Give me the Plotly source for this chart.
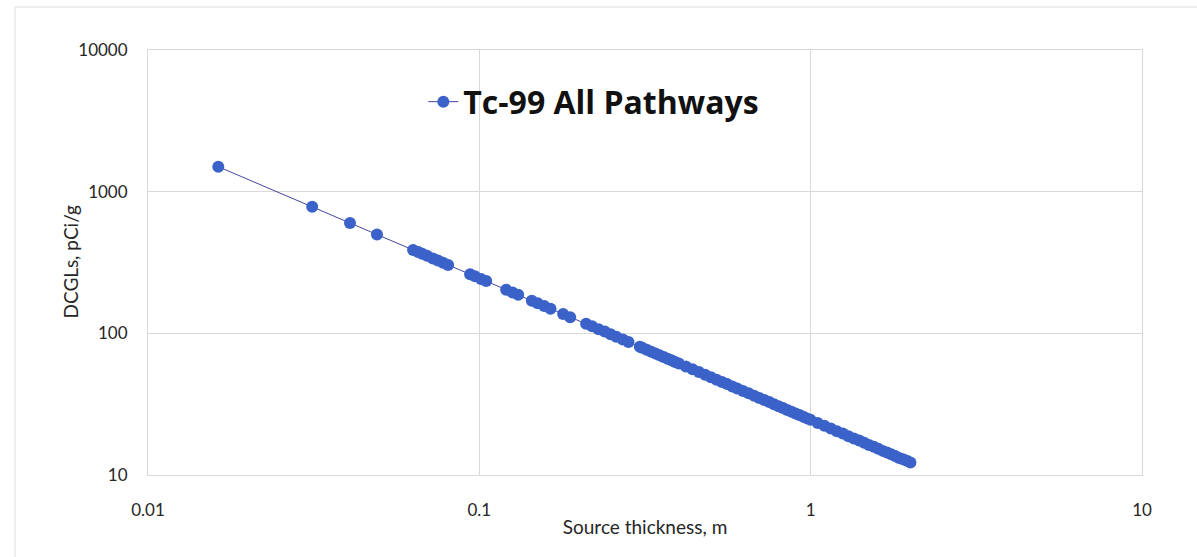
import plotly.graph_objects as go

# Source thickness (m) and DCGL values (pCi/g)
thickness_m = [
    0.0163, 0.0313, 0.0407, 0.0491,
    0.0631, 0.0654, 0.0672, 0.0695,
    0.0724, 0.0750, 0.0777, 0.0805,
    0.0938, 0.0970, 0.1012, 0.1049,
    0.1205, 0.126, 0.131,
    0.144, 0.150, 0.157, 0.164,
    0.179, 0.188,
    0.210, 0.219, 0.229, 0.239, 0.249, 0.259, 0.271, 0.282,
    0.305, 0.31, 0.32, 0.33, 0.34, 0.35, 0.36, 0.37, 0.38, 0.39,
    0.40, 0.42, 0.44, 0.46, 0.48,
    0.50, 0.52, 0.54, 0.56, 0.58, 0.60, 0.625, 0.65, 0.675, 0.70,
    0.725, 0.75, 0.775, 0.80, 0.825, 0.85, 0.875, 0.90, 0.925, 0.95,
    0.975, 1.00, 1.05, 1.10, 1.15, 1.20, 1.25, 1.30, 1.35, 1.40,
    1.45, 1.50, 1.55, 1.60, 1.65, 1.70, 1.75, 1.80, 1.85, 1.90,
    1.95, 2.00,
]
dcgl_pci_g = [
    1500, 783, 602, 499,
    388, 375, 365, 353,
    338, 327, 315, 304,
    261, 253, 242, 234,
    203, 194, 187,
    170, 163, 156, 149,
    137, 130,
    117, 112, 107, 103, 98.4, 94.6, 90.4, 86.9,
    80.3, 79.0, 76.6, 74.2, 72.1, 70.0, 68.1, 66.2, 64.5, 62.8,
    61.3, 58.3, 55.7, 53.3, 51.0,
    49.0, 47.1, 45.4, 43.8, 42.2, 40.8, 39.2, 37.7, 36.3, 35.0,
    33.8, 32.7, 31.6, 30.6, 29.7, 28.8, 28.0, 27.2, 26.5, 25.8,
    25.1, 24.5, 23.3, 22.3, 21.3, 20.4, 19.6, 18.8, 18.1, 17.5,
    16.9, 16.3, 15.8, 15.3, 14.8, 14.4, 14.0, 13.6, 13.2, 12.9,
    12.6, 12.25,
]
series_name = "Tc-99 All Pathways"
x_title = "Source thickness, m"
y_title = "DCGLs, pCi/g"
x_tick_vals = [0.01, 0.1, 1, 10]
x_tick_text = ["0.01", "0.1", "1", "10"]
y_tick_vals = [10, 100, 1000, 10000]
y_tick_text = ["10", "100", "1000", "10000"]

FONT = "Lato, 'Open Sans', sans-serif"
GRID = "#d9d9d9"
TXT = "#262626"

fig = go.Figure()
fig.add_trace(go.Scatter(
    x=thickness_m, y=dcgl_pci_g, mode="lines+markers", name=series_name,
    line=dict(color="#45459c", width=1),
    marker=dict(color="#3a62c8", size=12, line=dict(width=0)),
))

fig.update_layout(
    width=1197, height=557,
    margin=dict(l=148, r=55, t=50, b=82),
    paper_bgcolor="white", plot_bgcolor="white",
    font=dict(family=FONT, color=TXT),
    showlegend=True,
    legend=dict(
        x=0.277, y=0.878, xanchor="left", yanchor="middle",
        bgcolor="rgba(0,0,0,0)",
        font=dict(family="'Open Sans', sans-serif", size=32, color="#111111", weight="bold"),
        itemwidth=30,
    ),
    xaxis=dict(
        type="log", range=[-2, 1],
        tickvals=x_tick_vals, ticktext=x_tick_text,
        showgrid=True, gridcolor=GRID, gridwidth=1,
        showline=True, linecolor=GRID, mirror=True,
        ticks="", tickfont=dict(size=17, color=TXT),
        ticklabelstandoff=20,
        title=dict(text=x_title, font=dict(size=19, color=TXT), standoff=1),
        zeroline=False,
    ),
    yaxis=dict(
        type="log", range=[1, 4],
        tickvals=y_tick_vals, ticktext=y_tick_text,
        showgrid=True, gridcolor=GRID, gridwidth=1,
        showline=True, linecolor=GRID, mirror=True,
        ticks="", tickfont=dict(size=17, color=TXT),
        ticklabelstandoff=16,
        zeroline=False,
    ),
    annotations=[dict(
        text=y_title, textangle=-90, showarrow=False,
        xref="paper", yref="paper", x=(70 - 148) / 994, y=0.5,
        xanchor="center", yanchor="middle",
        font=dict(size=19, color=TXT),
    )],
    shapes=[dict(
        type="rect", xref="paper", yref="paper",
        x0=(15 - 148) / 994, x1=(1210 - 148) / 994,
        y0=(475 - 570) / 425, y1=(475 - 7) / 425,
        line=dict(color="#e0e0e0", width=1), fillcolor="rgba(0,0,0,0)", layer="below",
    )],
)

fig.write_html("out.html")
